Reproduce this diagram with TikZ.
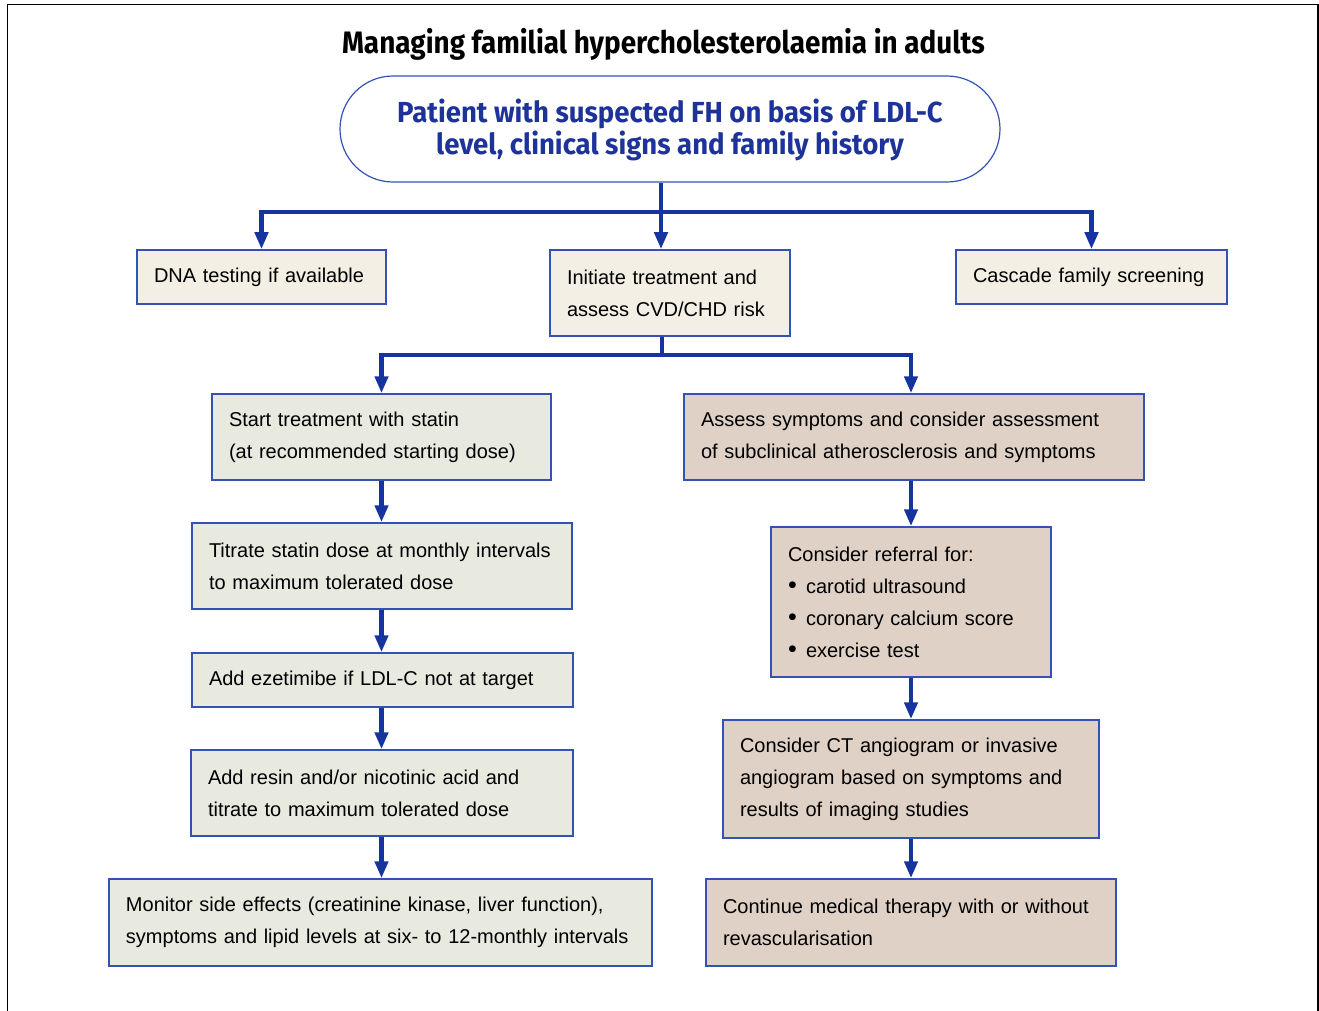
\documentclass[tikz,border=0pt]{standalone}
\usepackage{fontspec}
\usepackage{graphicx}
\setmainfont{Liberation Sans}
\newfontfamily\titlefont[FakeStretch=0.9]{Fira Sans}
\newfontfamily\headfont[FakeStretch=0.95]{Fira Sans}
\usetikzlibrary{arrows.meta}
\definecolor{bordblue}{HTML}{3452B4}
\definecolor{arrblue}{HTML}{1634A0}
\definecolor{headblue}{HTML}{1E3399}
\definecolor{greenfill}{HTML}{E8EAE0}
\definecolor{creamfill}{HTML}{F3EFE4}
\definecolor{brownfill}{HTML}{DFD1C6}
\newcommand{\bul}{\makebox[9pt][l]{\raisebox{-0.2pt}{\scalebox{1.25}{\textbullet}}}}
\begin{document}
\begin{tikzpicture}[x=0.5pt,y=-0.5pt,
  box/.style={draw=bordblue, line width=0.75pt, align=left, inner xsep=8.5pt, inner ysep=0pt, anchor=center, font=\fontsize{10}{16}\selectfont},
  gbox/.style={box, fill=greenfill},
  cbox/.style={box, fill=creamfill},
  bbox/.style={box, fill=brownfill},
  conn/.style={draw=arrblue, line width=2.4pt},
  arr/.style={conn, -{Triangle[length=8.5pt,width=6.5pt]}},
]
\useasboundingbox (0,0) rectangle (1319,1011);
\draw[line width=0.75pt] (7.5,1011) -- (7.5,4.5) -- (1318,4.5) -- (1318,1011);

\node[anchor=base, font=\titlefont\bfseries\fontsize{15.5}{18}\selectfont] (title) at (663.5,54) {Managing familial hypercholesterolaemia in adults};

\node[draw=bordblue, line width=0.6pt, rounded corners=26.5pt, minimum width=330pt, minimum height=53pt, inner sep=0pt, align=center, text=headblue, font=\headfont\bfseries\fontsize{14.5}{16}\selectfont] (top) at (670,129) {\rule{0pt}{13pt}Patient with suspected FH on basis of LDL-C\\level, clinical signs and family history};

\node[cbox, text width=107.5pt, minimum height=27pt] (dna) at (261.5,277) {DNA testing if available};
\node[cbox, text width=103pt, minimum height=43pt] (init) at (670,293) {Initiate treatment and\\assess CVD/CHD risk};
\node[cbox, text width=118.5pt, minimum height=27pt] (casc) at (1091.5,277) {Cascade family screening};

\node[gbox, text width=152.5pt, minimum height=43pt] (start) at (381.5,437) {Start treatment with statin\\(at recommended starting dose)};
\node[gbox, text width=173pt, minimum height=43pt] (titr) at (382,566) {Titrate statin dose at monthly intervals\\to maximum tolerated dose};
\node[gbox, text width=173.5pt, minimum height=27pt] (ezet) at (382.5,680) {Add ezetimibe if LDL-C not at target};
\node[gbox, text width=174pt, minimum height=43pt] (resin) at (382,793) {Add resin and/or nicotinic acid and\\titrate to maximum tolerated dose};
\node[gbox, text width=254.5pt, minimum height=43.5pt] (mon) at (380.5,922.5) {Monitor side effects (creatinine kinase, liver function),\\symptoms and lipid levels at six- to 12-monthly intervals};

\node[bbox, text width=213pt, minimum height=43pt] (assess) at (914,437) {Assess symptoms and consider assessment\\of subclinical atherosclerosis and symptoms};
\node[bbox, text width=123pt, minimum height=75pt] (refr) at (911,602) {Consider referral for:\\\bul carotid ultrasound\\\bul coronary calcium score\\\bul exercise test};
\node[bbox, text width=171pt, minimum height=59pt] (ct) at (911,779) {Consider CT angiogram or invasive\\angiogram based on symptoms and\\results of imaging studies};
\node[bbox, text width=188pt, minimum height=43.5pt] (cont) at (911,922.5) {Continue medical therapy with or without\\revascularisation};

\coordinate (j1) at (661,212);
\coordinate (j2) at (662,355);
\draw[arr] (j1) -| (dna.north);
\draw[arr] (j1) -| (casc.north);
\draw[arr] (top.south -| j1) -- (j1 |- init.north);
\draw[conn] (init.south -| j2) -- (j2);
\draw[arr] (j2) -| (start.north);
\draw[arr] (j2) -| (assess.north -| refr.north);

\draw[arr] (start.south) -- (start.south |- titr.north);
\draw[arr] (start.south |- titr.south) -- (start.south |- ezet.north);
\draw[arr] (start.south |- ezet.south) -- (start.south |- resin.north);
\draw[arr] (start.south |- resin.south) -- (start.south |- mon.north);

\draw[arr] (refr.north |- assess.south) -- (refr.north);
\draw[arr] (refr.south) -- (ct.north);
\draw[arr] (ct.south) -- (cont.north);
\end{tikzpicture}
\end{document}
